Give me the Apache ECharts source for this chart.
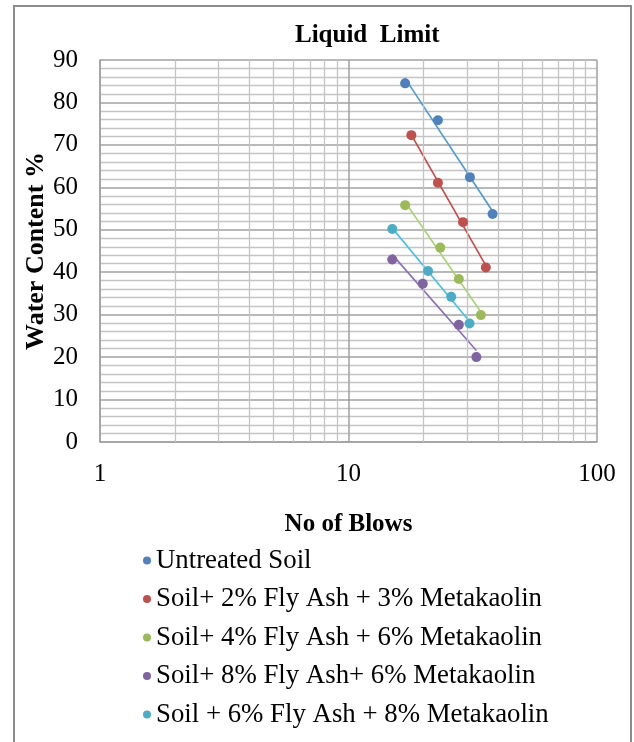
<!DOCTYPE html>
<html>
<head>
<meta charset="utf-8">
<script src="https://cdn.jsdelivr.net/npm/echarts@6/dist/echarts.min.js"></script>
<style>
html,body{margin:0;padding:0;background:#fff;}
#chart{width:634px;height:742px;}
</style>
</head>
<body>
<div id="chart"></div>
<script>
// ---- data ----
var seriesNames = [
  'Untreated Soil',
  'Soil+ 2% Fly Ash + 3% Metakaolin',
  'Soil+ 4% Fly Ash + 6% Metakaolin',
  'Soil+ 8% Fly Ash+ 6% Metakaolin',
  'Soil + 6% Fly Ash + 8% Metakaolin'
];
var blowsUntreated = [16.9, 22.9, 30.8, 38.0];
var wcUntreated    = [84.5, 75.8, 62.4, 53.7];
var blowsFA2MK3 = [17.9, 22.9, 28.9, 35.7];
var wcFA2MK3    = [72.3, 61.1, 51.8, 41.1];
var blowsFA4MK6 = [16.9, 23.4, 27.8, 34.1];
var wcFA4MK6    = [55.8, 45.8, 38.4, 29.9];
var blowsFA8MK6 = [15.0, 19.9, 27.8, 32.7];
var wcFA8MK6    = [43.0, 37.3, 27.6, 20.0];
var blowsFA6MK8 = [15.0, 20.9, 25.9, 30.7];
var wcFA6MK8    = [50.2, 40.3, 34.2, 27.9];
var xTickLabels = [1, 10, 100];
var xMinorGrid = [2, 3, 4, 5, 6, 7, 8, 9, 20, 30, 40, 50, 60, 70, 80, 90];

var markerColors = ['#4F81BD', '#C0504D', '#9BBB59', '#8064A2', '#4BACC6'];
var lineColors   = ['#4A9AD6', '#CC4444', '#A6D46E', '#8C6BBE', '#45C0EA'];

var allBlows = [blowsUntreated, blowsFA2MK3, blowsFA4MK6, blowsFA8MK6, blowsFA6MK8];
var allWc    = [wcUntreated, wcFA2MK3, wcFA4MK6, wcFA8MK6, wcFA6MK8];

function pairs(xs, ys) { return xs.map(function (x, i) { return [x, ys[i]]; }); }
// logarithmic trendline (least squares y = a + b ln x), spanning the data's x range
function logTrend(xs, ys) {
  var n = xs.length, sx = 0, sy = 0, sxx = 0, sxy = 0;
  for (var i = 0; i < n; i++) {
    var lx = Math.log(xs[i]);
    sx += lx; sy += ys[i]; sxx += lx * lx; sxy += lx * ys[i];
  }
  var b = (n * sxy - sx * sy) / (n * sxx - sx * sx);
  var a = (sy - b * sx) / n;
  var x0 = Math.min.apply(null, xs), x1 = Math.max.apply(null, xs);
  return [[x0, a + b * Math.log(x0)], [x1, a + b * Math.log(x1)]];
}

var FONT = "'Times New Roman', 'Liberation Serif', serif";
var series = [];
// minor vertical grid lines
series.push({
  type: 'scatter', name: '_grid', data: [], silent: true, z: 1,
  markLine: {
    silent: true, symbol: ['none', 'none'], label: { show: false },
    lineStyle: { color: '#c4c4c4', type: 'solid', width: 1.3 },
    animation: false,
    data: xMinorGrid.map(function (v) { return { xAxis: v }; })
  }
});
for (var k = 0; k < 5; k++) {
  series.push({
    type: 'line', name: '_trend' + k, data: logTrend(allBlows[k], allWc[k]),
    showSymbol: false, symbol: 'none', z: 3, silent: true,
    lineStyle: { color: lineColors[k], width: 1.6 }
  });
}
for (var k2 = 0; k2 < 5; k2++) {
  series.push({
    type: 'scatter', name: seriesNames[k2], data: pairs(allBlows[k2], allWc[k2]),
    symbol: 'circle', symbolSize: 10, z: 5,
    itemStyle: { color: markerColors[k2], opacity: 1 }
  });
}

var chart = echarts.init(document.getElementById('chart'), null, { renderer: 'canvas' });
chart.setOption({
  animation: false,
  backgroundColor: '#fff',
  textStyle: { fontFamily: FONT },
  title: {
    text: 'Liquid  Limit', left: 295, top: 23, padding: 0,
    textStyle: { fontFamily: FONT, fontSize: 25, fontWeight: 'bold', color: '#000' }
  },
  grid: { left: 100, right: 37, top: 60, bottom: 300, containLabel: false },
  xAxis: {
    type: 'log', logBase: 10, min: 1, max: 100,
    name: 'No of Blows', nameLocation: 'middle', nameGap: 70, nameMoveOverlap: false,
    nameTextStyle: { fontFamily: FONT, fontSize: 25, fontWeight: 'bold', color: '#000' },
    axisLine: { show: true, lineStyle: { color: '#a0a0a0', width: 1.5 } },
    axisTick: { show: false },
    axisLabel: {
      fontFamily: FONT, fontSize: 25, color: '#000', margin: 20,
      formatter: function (v) { return xTickLabels.indexOf(Math.round(v)) >= 0 ? String(Math.round(v)) : ''; }
    },
    splitLine: { show: true, lineStyle: { color: '#a0a0a0', width: 1.5 } },
    minorTick: { show: false }, minorSplitLine: { show: false }
  },
  yAxis: {
    type: 'value', min: 0, max: 90, interval: 10,
    name: 'Water Content %', nameLocation: 'middle', nameGap: 51, nameRotate: 90, nameMoveOverlap: false,
    nameTextStyle: { fontFamily: FONT, fontSize: 26, fontWeight: 'bold', color: '#000' },
    axisLine: { show: true, lineStyle: { color: '#a0a0a0', width: 1.5 } },
    axisTick: { show: false },
    axisLabel: { fontFamily: FONT, fontSize: 25, color: '#000', margin: 22 },
    splitLine: { show: true, lineStyle: { color: '#a0a0a0', width: 1.5 } },
    minorTick: { show: false, splitNumber: 5 },
    minorSplitLine: { show: true, lineStyle: { color: '#c4c4c4', width: 1.3 } }
  },
  legend: {
    orient: 'vertical', left: 143, top: 547, padding: 0,
    itemWidth: 8, itemHeight: 8, itemGap: 11.5, icon: 'circle',
    data: seriesNames,
    textStyle: { fontFamily: FONT, fontSize: 26.8, color: '#000', lineHeight: 26.8 }
  },
  graphic: [{
    type: 'rect', silent: true, z: 100,
    shape: { x: 14, y: 6, width: 617, height: 750 },
    style: { fill: 'none', stroke: '#8c8c8c', lineWidth: 2 }
  }],
  series: series
});
</script>
</body>
</html>
